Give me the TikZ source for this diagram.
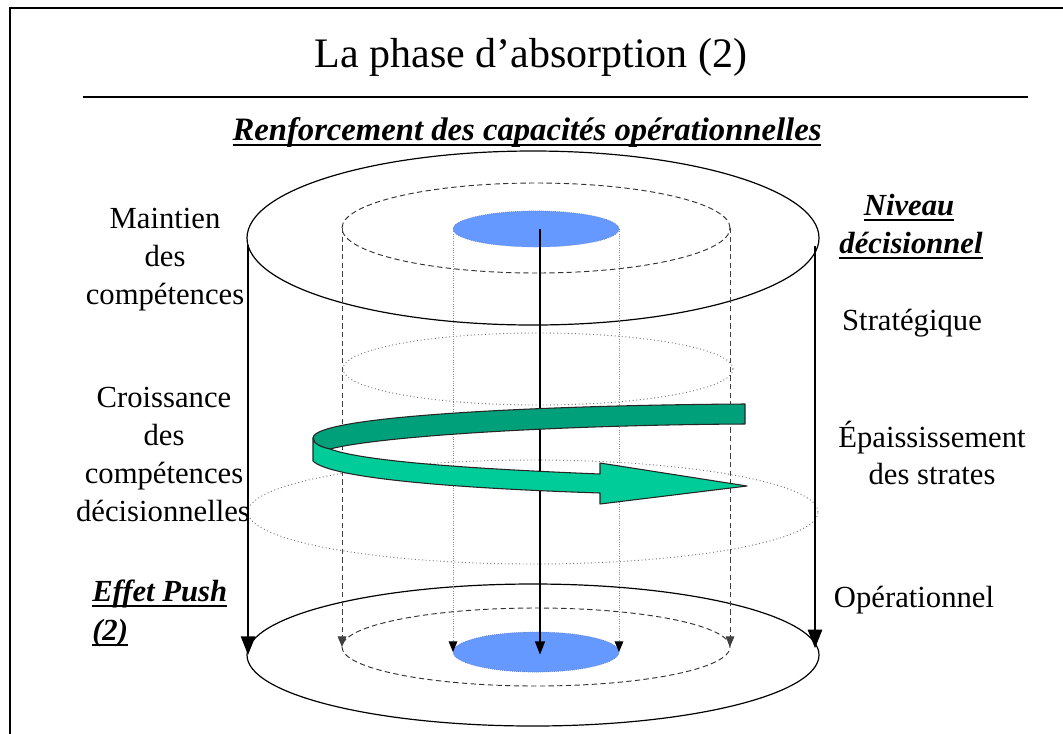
\documentclass[tikz,border=0pt]{standalone}
\usepackage{fontspec}
\setmainfont{Liberation Serif}
\usetikzlibrary{arrows.meta,shapes.geometric}
\definecolor{blueE}{HTML}{6699FF}
\definecolor{blueEdge}{HTML}{5A7AC8}
\definecolor{greenD}{HTML}{00A07A}
\definecolor{greenL}{HTML}{00CC99}
\newcommand\myul[1]{\setbox0\hbox{#1}\rlap{\rule[-4.6pt]{\wd0}{1.5pt}}\box0}
\begin{document}
\begin{tikzpicture}[x=0.75pt,y=-0.75pt,
  ell/.style={ellipse, inner sep=0pt, outer sep=0pt},
  outerell/.style={ell, draw=black, line width=0.9pt},
  dashell/.style={ell, draw=black!80, dashed, dash pattern=on 4pt off 2.5pt, line width=0.7pt},
  dotell/.style={ell, draw=black!55, dotted, line width=0.7pt},
  blueell/.style={ell, fill=blueE, draw=blueEdge, densely dotted, line width=0.5pt},
  thickarr/.style={line width=2.1pt, -{Triangle[length=14pt,width=10.5pt]}},
  dasharr/.style={draw=black!75, line width=0.75pt, dash pattern=on 4pt off 2.5pt, -{Triangle[length=8pt,width=6.5pt]}},
  dotarr/.style={draw=black!45, line width=0.75pt, densely dotted, -{Triangle[length=8pt,width=6.5pt,black]}},
  midarr/.style={line width=1.1pt, -{Triangle[length=10pt,width=7.5pt]}},
  body/.style={anchor=base, inner sep=0pt, font=\fontsize{23}{28}\selectfont},
  bodyl/.style={body, anchor=base west},
  band/.style={draw=black!85, line width=0.8pt, line join=round}
]
\useasboundingbox (0,0) rectangle (1063,733);
\fill[white] (0,0) rectangle (1063,733);
% frame
\draw[line width=1.8pt] (10,745) -- (10,8) -- (1075,8);

% title and rule
\node[anchor=base, inner sep=0pt, font=\fontsize{31.5}{36}\selectfont] (title) at (531,67) {La phase d’absorption (2)};
\draw[line width=1.1pt] (83,97) -- (1028,97);
\node[anchor=base, inner sep=0pt, font=\fontsize{24.5}{29}\selectfont\bfseries\itshape] (sub) at (527,140) {\myul{Renforcement des capacités opérationnelles}};

% ellipses
\node[outerell, minimum width=429pt, minimum height=130.5pt] (to) at (533,238) {};
\node[outerell, minimum width=429pt, minimum height=106.5pt] (bo) at (533,655) {};
\node[dashell, minimum width=291pt, minimum height=67.5pt] (td) at (536,228) {};
\node[dashell, minimum width=291pt, minimum height=58.5pt] (bd) at (536,647) {};
\node[dotell, minimum width=292.5pt, minimum height=54pt] (ud) at (538,369) {};
\node[dotell, minimum width=427.5pt, minimum height=78pt] (ld) at (533,512) {};
\node[blueell, minimum width=124.5pt, minimum height=27pt] (tb) at (536,229) {};
\node[blueell, minimum width=124.5pt, minimum height=30pt] (bb) at (536,652) {};

% vertical connectors
\draw[dasharr] (td.west) -- (bd.west);
\draw[dasharr] (td.east) -- (bd.east);
\draw[dotarr] (tb.west) -- (bb.west);
\draw[dotarr] (tb.east) -- (bb.east);
\draw[midarr] ([xshift=3pt]tb.center) -- ([xshift=3pt,yshift=-2pt]bb.center);
\draw[thickarr] ([xshift=0.8pt,yshift=-5pt]to.west) -- ([xshift=0.8pt]bo.west);
\draw[thickarr] ([xshift=-3pt,yshift=-6pt]to.east) -- ([xshift=-3pt,yshift=5pt]bo.east);

% green spiral arrow
\filldraw[band, fill=greenD] (745,404) .. controls (560,405) and (313,415) .. (313,438)
  .. controls (313,443) and (320,447) .. (330,449)
  .. controls (380,436) and (560,425) .. (745,424) -- cycle;
\filldraw[band, fill=greenL] (313,438) -- (313,461)
  .. controls (330,478) and (450,488) .. (600,493)
  -- (600,504) -- (747,486) -- (600,463) -- (600,474)
  .. controls (450,468) and (360,460) .. (330,449)
  .. controls (320,447) and (313,443) .. (313,438) -- cycle;

% left labels
\node[body] (l1) at (165,228) {Maintien};
\node[body] (l2) at (165,266) {des};
\node[body] (l3) at (165,304) {compétences};
\node[body] (l4) at (164,407) {Croissance};
\node[body] (l5) at (164,445) {des};
\node[body] (l6) at (164,483) {compétences};
\node[body] (l7) at (163,521) {décisionnelles};
\node[bodyl, font=\fontsize{23}{28}\selectfont\bfseries\itshape] (l8) at (92,601) {\myul{Effet Push}};
\node[bodyl, font=\fontsize{23}{28}\selectfont\bfseries\itshape] (l9) at (92,640) {\myul{(2)}};

% right labels
\node[body, font=\fontsize{23}{28}\selectfont\bfseries\itshape] (r1) at (909,215) {\myul{Niveau}};
\node[body, font=\fontsize{23}{28}\selectfont\bfseries\itshape] (r2) at (911,253) {\myul{décisionnel}};
\node[body] (r3) at (912,330) {Stratégique};
\node[body] (r4) at (932,447) {Épaississement};
\node[body] (r5) at (932,484) {des strates};
\node[body] (r6) at (914,607) {Opérationnel};
\end{tikzpicture}
\end{document}
